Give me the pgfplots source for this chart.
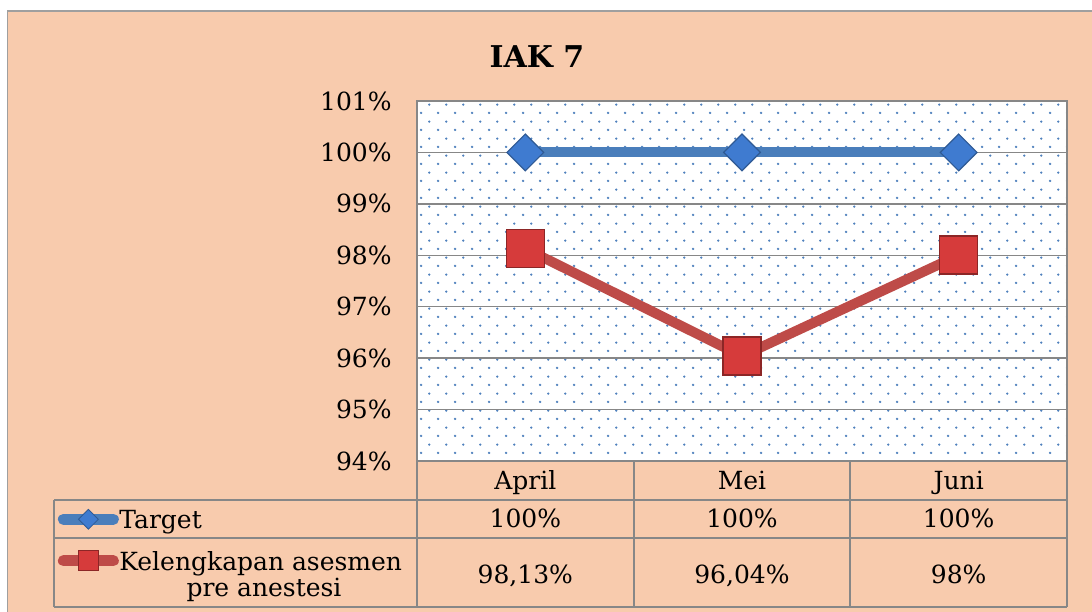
\documentclass[border=0pt]{standalone}
\usepackage{fontspec}
\setmainfont{DejaVu Serif}
\usepackage{pgfplots}
\pgfplotsset{compat=1.18}
\usetikzlibrary{patterns}
\definecolor{peach}{HTML}{F8CBAD}
\definecolor{gridgray}{HTML}{878787}
\definecolor{dotblue}{HTML}{4F81BD}
\definecolor{tblue}{HTML}{4A7EBB}
\definecolor{tbluefill}{HTML}{3F7BD0}
\definecolor{tblueedge}{HTML}{2F5A94}
\definecolor{kred}{HTML}{BE4B48}
\definecolor{kredfill}{HTML}{D63B3B}
\definecolor{krededge}{HTML}{8C2626}
\pgfdeclarepatternformonly{bluedots}{\pgfqpoint{0pt}{0pt}}{\pgfqpoint{8.35pt}{8.6pt}}{\pgfqpoint{8.35pt}{8.6pt}}{%
 \pgfpathcircle{\pgfqpoint{2.09pt}{2.15pt}}{0.65pt}%
 \pgfpathcircle{\pgfqpoint{6.26pt}{6.45pt}}{0.65pt}%
 \pgfusepath{fill}}
\begin{document}
\fontsize{12.5pt}{15pt}\selectfont
\begin{tikzpicture}
\fill[white] (0pt,0pt) rectangle (546pt,305.5pt);
\filldraw[fill=peach, draw=gridgray!80, line width=0.75pt] (3.75pt,-10pt) rectangle (560pt,300pt);
\node[font=\bfseries\fontsize{15pt}{18pt}\selectfont, anchor=base] at (268.5pt,271.5pt) {IAK 7};
\begin{axis}[
 at={(208.5pt,75pt)}, anchor=south west,
 width=325pt, height=180pt, scale only axis,
 xmin=-0.5, xmax=2.5, ymin=94, ymax=101,
 xtick={0,1,2}, xticklabels={April,Mei,Juni},
 ytick={94,95,96,97,98,99,100,101},
 yticklabels={94\%,95\%,96\%,97\%,98\%,99\%,100\%,101\%},
 major tick length=0pt,
 ymajorgrids, grid style={draw=gridgray, line width=0.75pt},
 axis line style={draw=gridgray, line width=0.75pt},
 axis background/.style={fill=white, postaction={pattern=bluedots, pattern color=dotblue}},
 xticklabel style={anchor=base, yshift=-14pt, inner sep=0pt},
 yticklabel style={anchor=east, xshift=-12.5pt, inner sep=0pt},
 clip=false,
 legend style={at={(-0.5531,-0.1333)}, anchor=north west, draw=none, fill=none, inner sep=0pt,
   row sep=8pt, column sep=0.25pt,
   nodes={inner sep=0pt, text height=9pt, text depth=3pt},
   font=\fontsize{12.5pt}{15pt}\selectfont},
 legend cell align=left,
 legend image code/.code={\draw[mark repeat=2,mark phase=2,yshift=1.75pt,#1] plot coordinates {(0pt,0pt) (12.5pt,0pt) (25pt,0pt)};},
]
\addplot[forget plot, tblue, line width=5pt, mark=square*, mark size=6.5pt,
  mark options={rotate=45, fill=tbluefill, draw=tblueedge, line width=0.6pt}]
  coordinates {(0,100) (1,100) (2,100)};
\addplot[forget plot, kred, line width=5pt, mark=square*, mark size=9.5pt,
  mark options={fill=kredfill, draw=krededge, line width=0.8pt}]
  coordinates {(0,98.13) (1,96.04) (2,98)};
\addlegendimage{tblue, line width=5.5pt, line cap=round, mark=square*, mark size=3.5pt,
  mark options={rotate=45, fill=tbluefill, draw=tblueedge, line width=0.4pt}}
\addlegendentry{Target}
\addlegendimage{kred, line width=5.5pt, line cap=round, mark=square*, mark size=5pt,
  mark options={fill=kredfill, draw=krededge, line width=0.5pt}}
\addlegendentry{Kelengkapan asesmen}
\end{axis}
% table grid
\begin{scope}[draw=gridgray, line width=1pt]
\draw (27pt,55.5pt) -- (533.5pt,55.5pt);
\draw (27pt,36.3pt) -- (533.5pt,36.3pt);
\draw (27pt,1.8pt) -- (533.5pt,1.8pt);
\draw (27pt,55.5pt) -- (27pt,1.8pt);
\draw (208.5pt,75pt) -- (208.5pt,1.8pt);
\draw (316.83pt,75pt) -- (316.83pt,1.8pt);
\draw (425.17pt,75pt) -- (425.17pt,1.8pt);
\draw (533.5pt,75pt) -- (533.5pt,1.8pt);
\end{scope}
\node[anchor=base] at (132pt,7.5pt) {pre anestesi};
\node[anchor=base] at (262.67pt,42pt) {100\%};
\node[anchor=base] at (371pt,42pt) {100\%};
\node[anchor=base] at (479.33pt,42pt) {100\%};
\node[anchor=base] at (262.67pt,14pt) {98,13\%};
\node[anchor=base] at (371pt,14pt) {96,04\%};
\node[anchor=base] at (479.33pt,14pt) {98\%};
\pgfresetboundingbox
\path[use as bounding box] (0pt,0pt) rectangle (546pt,305.5pt);
\end{tikzpicture}
\end{document}
